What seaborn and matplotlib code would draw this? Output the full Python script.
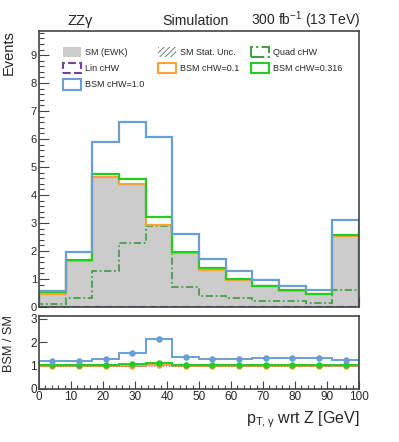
import numpy as np
import pandas as pd
import seaborn as sns
import matplotlib.pyplot as plt
from matplotlib.patches import Patch
from matplotlib.ticker import MultipleLocator

# binning (12 bins from 0 to 100 GeV)
bin_edges = np.linspace(0, 100, 13)

# event yields per bin
sm_ewk = [0.47, 1.65, 4.61, 4.35, 2.90, 1.93, 1.33, 0.97, 0.74, 0.56, 0.46, 2.52]
lin_chw = [0.00, 0.00, 0.00, 0.00, 0.00, 0.00, 0.00, 0.00, 0.00, 0.00, 0.00, 0.00]
quad_chw = [0.11, 0.33, 1.30, 2.28, 2.88, 0.72, 0.40, 0.31, 0.23, 0.20, 0.16, 0.60]
bsm_01 = [0.48, 1.66, 4.64, 4.39, 2.94, 1.94, 1.34, 0.98, 0.75, 0.57, 0.47, 2.53]
bsm_0316 = [0.52, 1.69, 4.76, 4.58, 3.21, 1.97, 1.38, 1.01, 0.76, 0.59, 0.48, 2.59]
bsm_10 = [0.58, 1.97, 5.90, 6.62, 6.06, 2.60, 1.73, 1.28, 0.97, 0.76, 0.61, 3.10]

# ratios BSM / SM
ratio_01 = [1.00, 1.00, 1.00, 1.00, 1.01, 1.00, 1.00, 1.00, 1.00, 1.00, 1.00, 1.00]
ratio_0316 = [1.02, 1.02, 1.03, 1.05, 1.10, 1.03, 1.03, 1.03, 1.03, 1.03, 1.03, 1.02]
ratio_10 = [1.19, 1.21, 1.29, 1.55, 2.12, 1.37, 1.29, 1.29, 1.31, 1.31, 1.31, 1.24]

c_gray = '#cccccc'
c_blue = '#6a9fd4'
c_green = '#22cc22'
c_orange = '#ffa040'
c_quad = '#44a044'
c_lin = '#7040a0'
c_frame = '#444444'

sns.set_theme(style="ticks")
plt.rcParams['font.family'] = ['Liberation Sans', 'DejaVu Sans']
plt.rcParams['mathtext.default'] = 'regular'
plt.rcParams['hatch.linewidth'] = 0.6

fig = plt.figure(figsize=(3.99, 4.42), dpi=100)
ax = fig.add_axes([0.0977, 0.3054, 0.802, 0.6244])
rax = fig.add_axes([0.0977, 0.12, 0.802, 0.165])

centers = (bin_edges[:-1] + bin_edges[1:]) / 2
df = pd.DataFrame({'pt': centers, 'sm': sm_ewk})

# main panel
sns.histplot(data=df, x='pt', weights='sm', bins=12, binrange=(0, 100), element='step',
             fill=True, color=c_gray, alpha=1, linewidth=0, ax=ax)
ax.stairs(quad_chw, bin_edges, color=c_quad, lw=1.3, ls=(0, (4, 1.5, 1, 1.5)))
ax.stairs(lin_chw, bin_edges, color=c_lin, lw=1.5, ls='--')
ax.stairs(bsm_01, bin_edges, color=c_orange, lw=1.6)
ax.stairs(bsm_0316, bin_edges, color=c_green, lw=1.6)
ax.stairs(bsm_10, bin_edges, color=c_blue, lw=1.6)

ax.set_xlim(0, 100)
ax.set_ylim(0, 9.86)
ax.set_xlabel('')
ax.set_ylabel('')
ax.xaxis.set_major_locator(MultipleLocator(10))
ax.xaxis.set_minor_locator(MultipleLocator(2))
ax.yaxis.set_major_locator(MultipleLocator(1))
ax.yaxis.set_minor_locator(MultipleLocator(0.2))
ax.tick_params(which='both', direction='in', top=False, right=False,
               labelbottom=False, color=c_frame, width=0.8, labelsize=8, pad=1.5)
ax.tick_params(which='major', length=7)
ax.tick_params(which='minor', length=3.5)

# legend, three columns placed by hand
kw = dict(fontsize=6.5, frameon=False, handlelength=2.0, handleheight=1.4,
          handletextpad=0.4, labelspacing=0.62, borderpad=0, borderaxespad=0,
          loc='upper left')
col1 = [Patch(facecolor=c_gray, edgecolor='none'),
        Patch(facecolor='none', edgecolor=c_lin, ls='--', lw=1.5),
        Patch(facecolor='none', edgecolor=c_blue, lw=1.5)]
col2 = [Patch(facecolor='none', edgecolor='#666666', hatch='//////', lw=0),
        Patch(facecolor='none', edgecolor=c_orange, lw=1.5)]
col3 = [Patch(facecolor='none', edgecolor=c_quad, ls='-.', lw=1.5),
        Patch(facecolor='none', edgecolor=c_green, lw=1.5)]
leg1 = ax.legend(col1, ['SM (EWK)', 'Lin cHW', 'BSM cHW=1.0'],
                 bbox_to_anchor=(0.075, 0.942), **kw)
ax.add_artist(leg1)
leg2 = ax.legend(col2, ['SM Stat. Unc.', 'BSM cHW=0.1'],
                 bbox_to_anchor=(0.372, 0.942), **kw)
ax.add_artist(leg2)
ax.legend(col3, ['Quad cHW', 'BSM cHW=0.316'],
          bbox_to_anchor=(0.6625, 0.942), **kw)

# ratio panel
rax.axhline(1, color='#888888', lw=0.8, ls=':')
for vals, col in [(ratio_01, c_orange), (ratio_0316, c_green), (ratio_10, c_blue)]:
    rax.stairs(vals, bin_edges, color=col, lw=1.4)
    sns.scatterplot(x=centers, y=vals, color=col, s=22, linewidth=0, ax=rax, zorder=3)

rax.set_xlim(0, 100)
rax.set_ylim(0, 3.12)
rax.xaxis.set_major_locator(MultipleLocator(10))
rax.xaxis.set_minor_locator(MultipleLocator(2))
rax.yaxis.set_major_locator(MultipleLocator(1))
rax.tick_params(which='both', direction='in', top=False, right=False,
                color=c_frame, width=0.8, labelsize=8.5, pad=1.5)
rax.tick_params(which='major', length=6)
rax.tick_params(which='minor', length=3)
rax.set_xlabel('')
rax.set_ylabel('')

for a in (ax, rax):
    for s in a.spines.values():
        s.set_color(c_frame)
        s.set_linewidth(1.2)

# texts
fig.text(0.170, 0.943, 'ZZγ', fontsize=10.5, ha='left', va='baseline')
fig.text(0.408, 0.943, 'Simulation', fontsize=10.2, ha='left', va='baseline')
fig.text(0.902, 0.943, '300 fb$^{-1}$ (13 TeV)', fontsize=10, ha='right', va='baseline')
fig.text(0.022, 0.932, 'Events', fontsize=10.5, rotation=90, ha='center', va='top')
fig.text(0.022, 0.287, 'BSM / SM', fontsize=9.2, rotation=90, ha='center', va='top')
fig.text(0.902, 0.043, 'p$_{T,\\gamma}$ wrt Z [GeV]', fontsize=11.5, ha='right', va='baseline')

fig.savefig('out.png', dpi=100)
